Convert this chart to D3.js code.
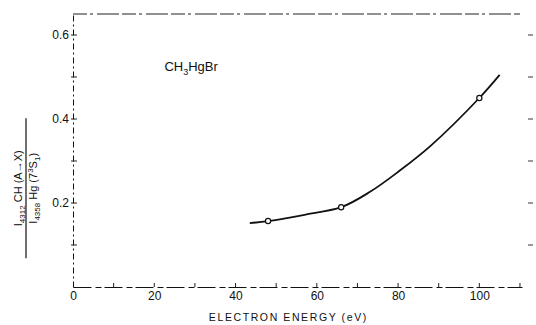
<!DOCTYPE html>
<html>
<head>
<meta charset="utf-8">
<script src="https://cdn.jsdelivr.net/npm/d3@7"></script>
<style>
  body { margin: 0; background: #fff; }
  svg { display: block; font-family: "Liberation Sans", Arial, sans-serif; }
  .axis path, .axis line { stroke: #111; }
  .axis text { font-size: 12px; fill: #111; }
</style>
</head>
<body>
<svg id="chart" width="536" height="325"></svg>
<script>
// data
const energy = [43.5, 48, 57, 66, 73, 80, 88, 100, 105];
const ratio = [0.152, 0.157, 0.172, 0.19, 0.226, 0.274, 0.336, 0.45, 0.505];
const markerEnergy = [48, 66, 100];
const markerRatio = [0.157, 0.19, 0.45];
const xTickLabels = [0, 20, 40, 60, 80, 100];
const yTickLabels = [0.2, 0.4, 0.6];
const yMinorTicks = [0.1, 0.2, 0.3, 0.4, 0.5, 0.6];

const svg = d3.select('#chart');

const margin = { top: 14, right: 14, bottom: 38, left: 73 };
const width = 536 - margin.left - margin.right;
const height = 325 - margin.top - margin.bottom;

const x = d3.scaleLinear().domain([0, 110.5]).range([0, width]);
const y = d3.scaleLinear().domain([0, 0.65]).range([height, 0]);

const root = svg.append('g')
  .attr('transform', `translate(${margin.left},${margin.top})`);

//
// frame (dashed, like the scan)
//
root.append('line')
  .attr('x1', 0).attr('x2', width - 2)
  .attr('y1', 0).attr('y2', 0)
  .attr('stroke', '#222').attr('stroke-width', 1.2)
  .attr('stroke-dasharray', '14 3 3 4 22 3');

//
// left axis
//
const yAxis = root.append('g')
  .attr('class', 'axis')
  .call(d3.axisLeft(y)
    .tickValues(yTickLabels)
    .tickSize(0)
    .tickPadding(4)
    .tickFormat(d3.format('.1f')));
yAxis.select('.domain').attr('stroke-dasharray', '6 3 2 3');

root.append('g')
  .selectAll('line')
  .data(yMinorTicks)
  .join('line')
  .attr('x1', -2).attr('x2', 4)
  .attr('y1', (d) => y(d)).attr('y2', (d) => y(d))
  .attr('stroke', '#222');

//
// right side ticks (no line)
//
root.append('g')
  .selectAll('line')
  .data(yMinorTicks)
  .join('line')
  .attr('x1', width + 6).attr('x2', width + 11)
  .attr('y1', (d) => y(d)).attr('y2', (d) => y(d))
  .attr('stroke', '#333');

//
// bottom axis
//
const xAxis = root.append('g')
  .attr('class', 'axis')
  .attr('transform', `translate(0,${height})`)
  .call(d3.axisBottom(x)
    .tickValues(xTickLabels)
    .tickSize(0)
    .tickPadding(4));
xAxis.select('.domain').attr('stroke-dasharray', '18 4 6 3');

root.append('g')
  .selectAll('line')
  .data(d3.range(10, 111, 10))
  .join('line')
  .attr('x1', (d) => x(d)).attr('x2', (d) => x(d))
  .attr('y1', height).attr('y2', height - 4)
  .attr('stroke', '#222');

//
// curve
//
const line = d3.line()
  .curve(d3.curveCatmullRom)
  .x((d, i) => x(energy[i]))
  .y((d, i) => y(ratio[i]));

root.append('path')
  .datum(energy)
  .attr('fill', 'none')
  .attr('stroke', '#111')
  .attr('stroke-width', 1.8)
  .attr('d', line);

root.append('g')
  .selectAll('circle')
  .data(markerEnergy)
  .join('circle')
  .attr('cx', (d) => x(d))
  .attr('cy', (d, i) => y(markerRatio[i]))
  .attr('r', 2.6)
  .attr('fill', '#fff')
  .attr('stroke', '#111')
  .attr('stroke-width', 1.2);

//
// compound label
//
const comp = root.append('text')
  .attr('x', x(22.5))
  .attr('y', y(0.515))
  .attr('font-size', 13)
  .attr('fill', '#111');
comp.append('tspan').text('CH');
comp.append('tspan').attr('font-size', 9).attr('dy', 4).text('3');
comp.append('tspan').attr('dy', -4).text('HgBr');

//
// x title
//
svg.append('text')
  .attr('x', margin.left + x(53))
  .attr('y', 321)
  .attr('text-anchor', 'middle')
  .attr('font-size', 10.5)
  .attr('letter-spacing', 1.6)
  .attr('fill', '#111')
  .text('ELECTRON ENERGY  (eV)');

//
// y title (fraction, rotated)
//
const yt = svg.append('g')
  .attr('transform', `translate(26,${margin.top + y(0.235)}) rotate(-90)`)
  .attr('fill', '#111');

const num = yt.append('text')
  .attr('x', 0).attr('y', -4)
  .attr('text-anchor', 'middle')
  .attr('font-size', 11);
num.append('tspan').text('I');
num.append('tspan').attr('font-size', 8).attr('dy', 3).text('4312');
num.append('tspan').attr('dy', -3).text(' CH (A\u2192X)');

yt.append('line')
  .attr('x1', -70).attr('x2', 70)
  .attr('y1', 0).attr('y2', 0)
  .attr('stroke', '#111').attr('stroke-width', 1.2);

const den = yt.append('text')
  .attr('x', 0).attr('y', 11)
  .attr('text-anchor', 'middle')
  .attr('font-size', 11);
den.append('tspan').text('I');
den.append('tspan').attr('font-size', 8).attr('dy', 3).text('4358');
den.append('tspan').attr('dy', -3).text(' Hg (7');
den.append('tspan').attr('font-size', 8).attr('dy', -4).text('3');
den.append('tspan').attr('dy', 4).text('S');
den.append('tspan').attr('font-size', 8).attr('dy', 3).text('1');
den.append('tspan').attr('dy', -3).text(')');
</script>
</body>
</html>
